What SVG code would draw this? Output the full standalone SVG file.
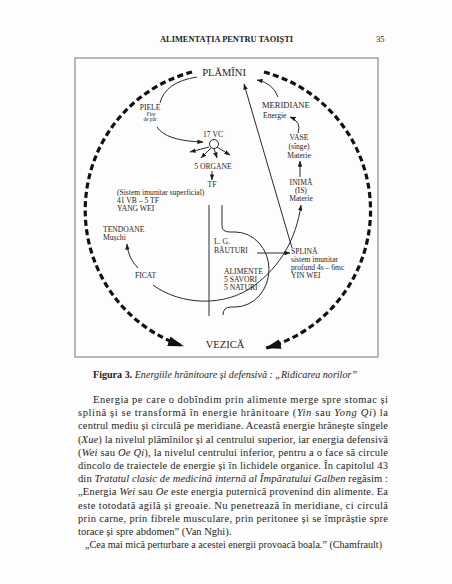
<svg xmlns="http://www.w3.org/2000/svg" width="452" height="584" viewBox="0 0 452 584">
<style>
text{font-family:"Liberation Serif","Times New Roman",serif;fill:#1e1e1e}
.l{font-size:7.6px}
.s{font-size:5.3px}
.big{font-size:10.5px}
.c{fill:none;stroke:#2a2a2a;stroke-width:1}
.a{marker-end:url(#ah)}
.d{fill:none;stroke:#111;stroke-width:3.2;stroke-dasharray:6 3.4;marker-end:url(#bh)}
.p{font-size:10.5px}
.i{font-style:italic}
</style>
<defs>
<marker id="ah" viewBox="0 0 8 6" refX="7.5" refY="3" markerWidth="6" markerHeight="4.5" markerUnits="userSpaceOnUse" orient="auto"><path d="M0,0 L8,3 L0,6 z" fill="#1e1e1e"/></marker>
<marker id="bh" viewBox="0 0 16 10" refX="15" refY="5" markerWidth="16" markerHeight="10" markerUnits="userSpaceOnUse" orient="auto"><path d="M0,0 L16,5 L0,10 z" fill="#111"/></marker>
</defs>
<rect width="452" height="584" fill="#fdfdfd"/>
<text x="160" y="42" font-size="7.5" font-weight="bold" textLength="133" lengthAdjust="spacingAndGlyphs">ALIMENTAȚIA PENTRU TAOIȘTI</text>
<text x="376" y="42" font-size="8.5">35</text>
<rect x="75" y="58" width="303" height="299" fill="none" stroke="#777" stroke-width="1"/>
<g id="connectors">
<path class="d" d="M192,72 A143 143 0 0 0 183,346"/>
<path class="d" d="M264,72 A143 143 0 0 1 266,348"/>
<path class="c" d="M197,77 Q165,82 160,103"/>
<path class="c a" d="M157,127 Q166,141 203,142"/>
<circle cx="214" cy="144" r="4.5" fill="#fff" stroke="#2a2a2a" stroke-width="1"/>
<path class="c a" d="M209,147 L190,152"/>
<path class="c a" d="M211,148 L201,158"/>
<path class="c a" d="M214,148.5 L217,158"/>
<path class="c a" d="M217,147 L230,155"/>
<path class="c a" d="M212,171 L212,180"/>
<path class="c a" d="M138,268 Q128,258 127,244"/>
<path class="c a" d="M153,285 C180,305 225,308 255,285 C280,266 296,240 301,205"/>
<path class="c a" d="M292,248 L244,84"/>
<path class="c a" d="M278,97 Q273,83 257,80"/>
<path class="c a" d="M298,133 Q302,122 290,117"/>
<path class="c a" d="M300,177 L300,161"/>
<path class="c a" d="M257,253 L290,253"/>
<path class="c" d="M209,205 L209,316"/>
<path class="c" d="M222,205 V226 Q222,232 230,232 H235 A34 37.5 0 0 1 235,307 H231 Q223,307 223,315"/>
</g>
<g id="plamini"><text class="big" x="224" y="76" text-anchor="middle">PLĂMÎNI</text></g>
<g id="vezica"><text class="big" x="225" y="348" text-anchor="middle">VEZICĂ</text></g>
<g id="piele"><text x="150" y="110" text-anchor="middle" font-size="7.6">PIELE</text><text class="s" x="151" y="115.5" text-anchor="middle">Fire</text><text class="s" x="150" y="121" text-anchor="middle">de păr</text></g>
<g id="vc17"><text class="l" x="213" y="137" text-anchor="middle">17 VC</text></g>
<g id="organe"><text class="l" x="213" y="169" text-anchor="middle">5 ORGANE</text></g>
<g id="tf"><text class="l" x="212" y="187" text-anchor="middle">TF</text></g>
<g id="sistem-superficial"><text class="l" x="117" y="195">(Sistem imunitar superficial)</text><text class="l" x="117" y="203">41 VB – 5 TF</text><text class="l" x="117" y="211">YANG WEI</text></g>
<g id="tendoane"><text class="l" x="103" y="232">TENDOANE</text><text class="l" x="103" y="240">Mușchi</text></g>
<g id="ficat"><text class="l" x="135" y="278">FICAT</text></g>
<g id="meridiane"><text x="262" y="108" font-size="8.5">MERIDIANE</text><text class="l" x="263" y="118">Energie</text></g>
<g id="vase"><text class="l" x="299" y="140" text-anchor="middle">VASE</text><text class="l" x="299" y="149" text-anchor="middle">(sînge)</text><text class="l" x="299" y="158" text-anchor="middle">Materie</text></g>
<g id="inima"><text class="l" x="301" y="185" text-anchor="middle">INIMĂ</text><text class="l" x="301" y="193" text-anchor="middle">(IS)</text><text class="l" x="301" y="201" text-anchor="middle">Materie</text></g>
<g id="lg"><text class="l" x="214" y="244">L. G.</text><text class="l" x="214" y="253">BĂUTURI</text></g>
<g id="alimente"><text class="l" x="224" y="274">ALIMENTE</text><text class="l" x="224" y="282">5 SAVORI</text><text class="l" x="224" y="290">5 NATURI</text></g>
<g id="splina"><text class="l" x="291" y="254">SPLINĂ</text><text class="l" x="291" y="262">sistem imunitar</text><text class="l" x="291" y="270">profund 4s – 6mc</text><text class="l" x="291" y="278">YIN WEI</text></g>
<text x="93" y="378" font-size="9.5" textLength="264" lengthAdjust="spacingAndGlyphs"><tspan font-weight="bold">Figura 3.</tspan> <tspan class="i">Energiile hrănitoare și defensivă : „Ridicarea norilor”</tspan></text>
<g class="p">
<text class="p" x="93" y="403" textLength="295" lengthAdjust="spacing">Energia pe care o dobîndim prin alimente merge spre stomac și</text>
<text class="p" x="78" y="416.2" textLength="310" lengthAdjust="spacing">splină și se transformă în energie hrănitoare (<tspan class="i">Yin</tspan> sau <tspan class="i">Yong Qi</tspan>) la</text>
<text class="p" x="78" y="429.4" textLength="310" lengthAdjust="spacing">centrul mediu și circulă pe meridiane. Această energie hrănește sîngele</text>
<text class="p" x="78" y="442.6" textLength="310" lengthAdjust="spacing">(<tspan class="i">Xue</tspan>) la nivelul plămînilor și al centrului superior, iar energia defensivă</text>
<text class="p" x="78" y="455.8" textLength="310" lengthAdjust="spacing">(<tspan class="i">Wei</tspan> sau <tspan class="i">Oe Qi</tspan>), la nivelul centrului inferior, pentru a o face să circule</text>
<text class="p" x="78" y="469" textLength="310" lengthAdjust="spacing">dincolo de traiectele de energie și în lichidele organice. În capitolul 43</text>
<text class="p" x="78" y="482.2" textLength="310" lengthAdjust="spacing">din <tspan class="i">Tratatul clasic de medicină internă al Împăratului Galben</tspan> regăsim :</text>
<text class="p" x="78" y="495.4" textLength="310" lengthAdjust="spacing">„Energia <tspan class="i">Wei</tspan> sau <tspan class="i">Oe</tspan> este energia puternică provenind din alimente. Ea</text>
<text class="p" x="78" y="508.6" textLength="310" lengthAdjust="spacing">este totodată agilă și greoaie. Nu penetrează în meridiane, ci circulă</text>
<text class="p" x="78" y="521.8" textLength="310" lengthAdjust="spacing">prin carne, prin fibrele musculare, prin peritonee și se împrăștie spre</text>
<text class="p" x="78" y="535">torace și spre abdomen” (Van Nghi).</text>
<text class="p" x="85" y="548.2" textLength="297" lengthAdjust="spacingAndGlyphs">„Cea mai mică perturbare a acestei energii provoacă boala.” (Chamfrault)</text>
</g>
</svg>
